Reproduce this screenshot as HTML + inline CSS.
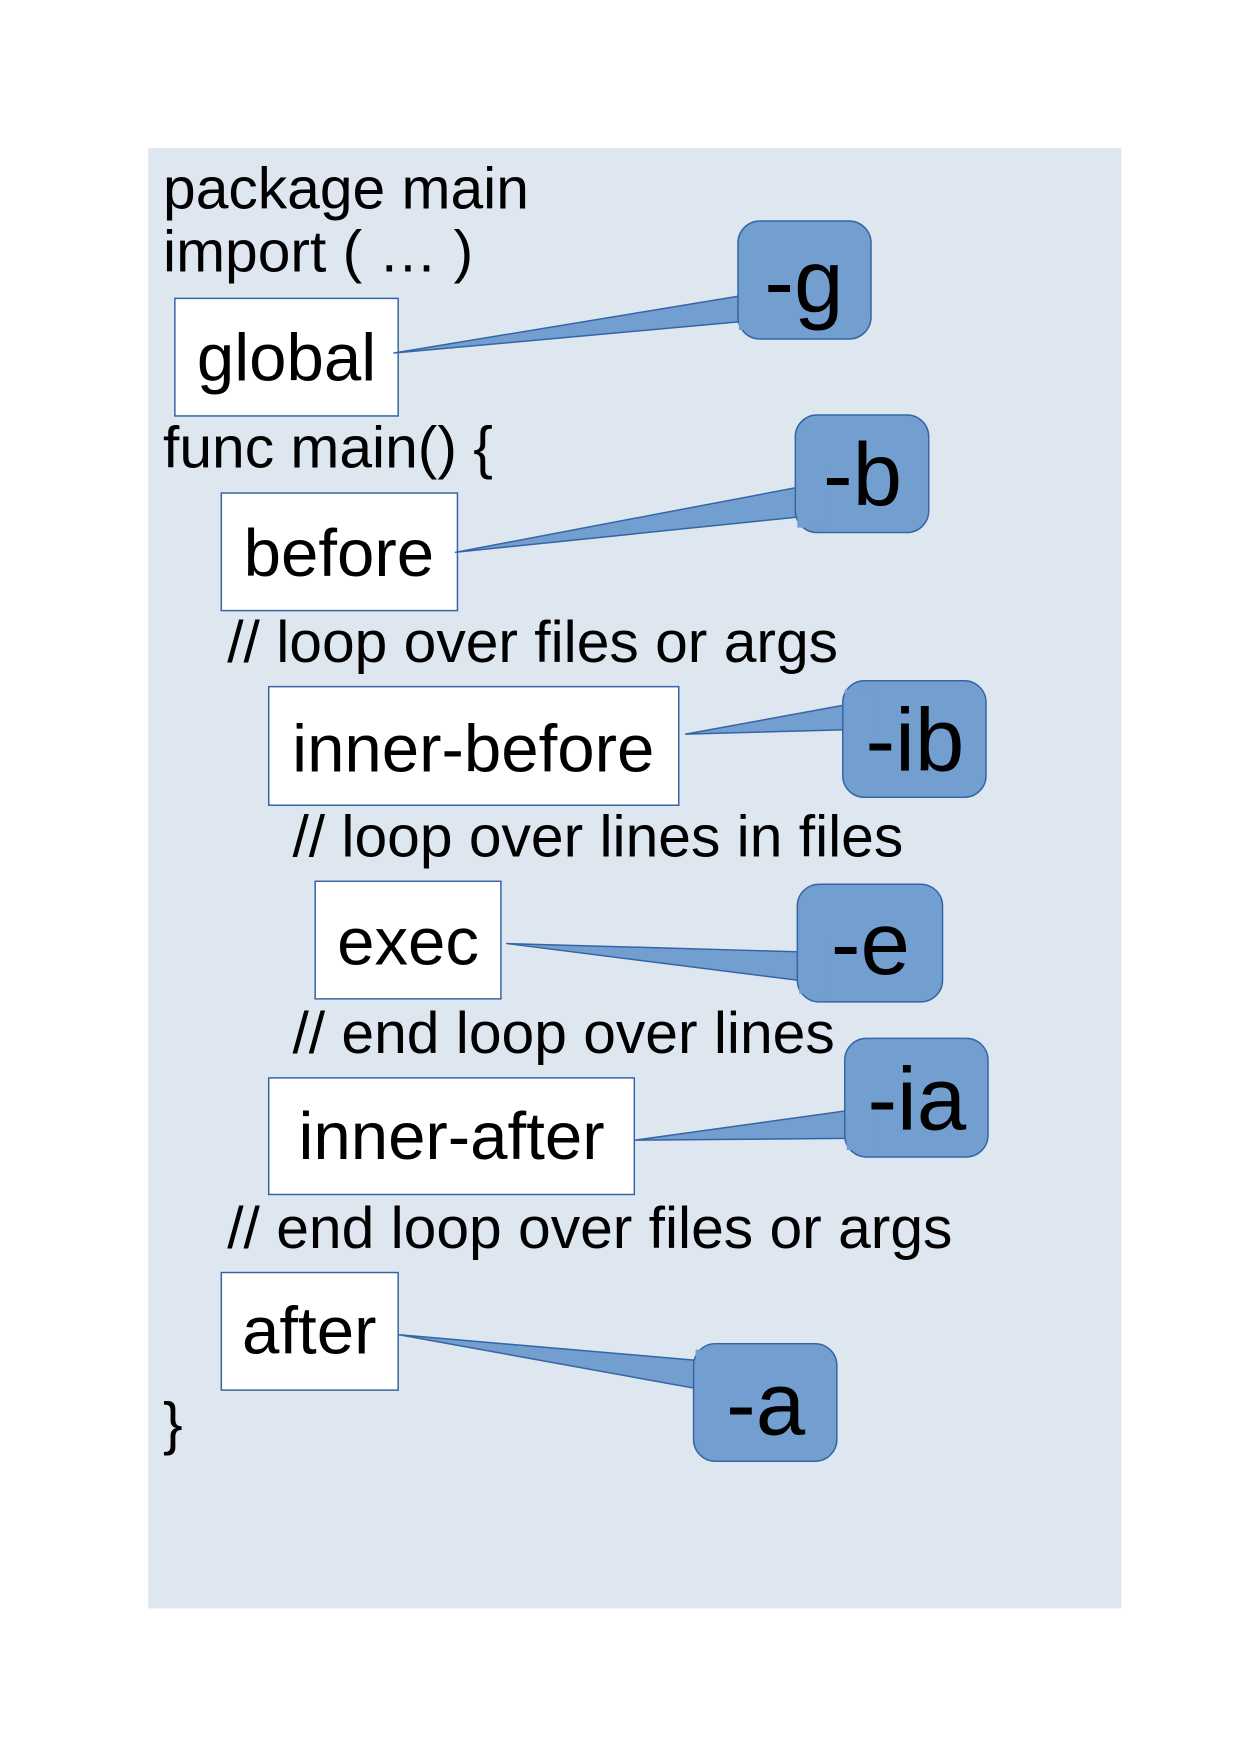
<!DOCTYPE html>
<html><head><meta charset="utf-8"><style>
html,body{margin:0;padding:0;background:#fff;}
svg{display:block;}
text{font-family:"Liberation Sans",Arial,sans-serif;fill:#000;}
</style></head><body>
<svg width="1240" height="1755" viewBox="0 0 1240 1755" xmlns="http://www.w3.org/2000/svg">
<g transform="scale(0.988)">
<rect x="150" y="150" width="985" height="1478" fill="#dee6ef"/>
<g font-size="59.5">
<text x="165" y="211">package main</text>
<text x="165" y="275">import ( … )</text>
<text x="165" y="473">func main() {</text>
<text x="230" y="670">// loop over files or args</text>
<text x="296" y="867">// loop over lines in files</text>
<text x="296" y="1066">// end loop over lines</text>
<text x="230" y="1263">// end loop over files or args</text>
<text x="165" y="1461">}</text>
</g>
<g fill="#fff" stroke="#3465a4" stroke-width="1.5">
<rect x="177" y="302" width="226" height="119"/>
<rect x="224" y="499" width="239" height="119"/>
<rect x="272" y="695" width="415" height="120"/>
<rect x="319" y="892" width="188" height="119"/>
<rect x="272" y="1091" width="370" height="118"/>
<rect x="224" y="1288" width="179" height="119"/>
</g>
<g font-size="68" text-anchor="middle">
<text x="290" y="385">global</text>
<text x="343" y="583">before</text>
<text x="479" y="781">inner-before</text>
<text x="413" y="976">exec</text>
<text x="457" y="1173">inner-after</text>
<text x="313" y="1370">after</text>
</g>
<g fill="#729fcf" stroke="#3465a4" stroke-width="1.5" stroke-linejoin="round">
<path d="M830,489 L461,559 L830,521 Z"/>
<rect x="805" y="420" width="135" height="119" rx="22"/>
<path d="M880,709 L694,743 L880,738 Z"/>
<rect x="853" y="689" width="145" height="118" rx="22"/>
<path d="M830,964 L513,955 L830,995 Z"/>
<rect x="807" y="895" width="147" height="119" rx="22"/>
<path d="M880,1121 L643,1154 L880,1152 Z"/>
<rect x="855" y="1051" width="145" height="120" rx="22"/>
<path d="M730,1379 L404,1351 L730,1410 Z"/>
<rect x="702" y="1360" width="145" height="119" rx="22"/>
</g>
<g fill="#729fcf">
<rect x="807" y="476" width="30" height="58"/>
<rect x="855" y="698" width="30" height="52"/>
<rect x="809" y="952" width="30" height="54"/>
<rect x="857" y="1110" width="30" height="54"/>
<rect x="704" y="1366" width="30" height="56"/>
</g>
<g font-size="90" text-anchor="middle">
<text x="873" y="511">-b</text>
<text x="926" y="780">-ib</text>
<text x="881" y="986">-e</text>
<text x="928" y="1143">-ia</text>
<text x="775" y="1452">-a</text>
</g>
</g>
<g fill="#729fcf" stroke="#3465a4" stroke-width="1.5" stroke-linejoin="round">
<path d="M770,291 L394,353 L770,319 Z"/>
<rect x="738" y="221" width="133" height="118" rx="22"/>
</g>
<rect x="739" y="280" width="34" height="50" fill="#729fcf"/>
<text x="804" y="312" font-size="89" text-anchor="middle">-g</text>
</svg>
</body></html>
